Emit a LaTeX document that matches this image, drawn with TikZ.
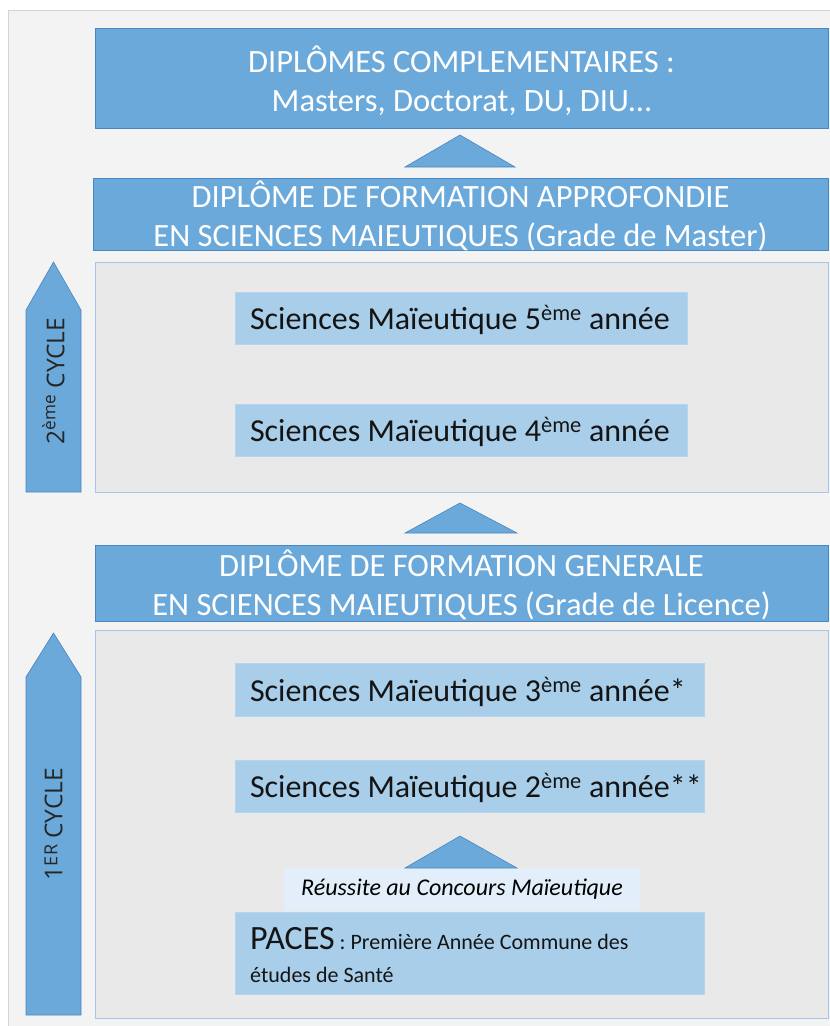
\documentclass[tikz,border=0pt]{standalone}
\usepackage{fontspec}
\setmainfont{Carlito}
\newfontfamily\cyclefont{Open Sans}
\definecolor{darkblue}{RGB}{106,169,218}
\definecolor{darkedge}{RGB}{74,134,192}
\definecolor{lightblue}{RGB}{168,206,234}
\definecolor{panelgray}{RGB}{233,233,233}
\definecolor{paneledge}{RGB}{168,196,232}
\definecolor{bggray}{RGB}{243,243,243}
\definecolor{bgedge}{RGB}{212,212,212}
\definecolor{paleblue}{RGB}{226,238,249}
\tikzset{
  headbox/.style={draw=darkedge, line width=0.8pt, fill=darkblue, inner sep=0pt},
  headtext/.style={text=white, align=center, inner sep=0pt, font=\fontsize{32.5}{38.5}\selectfont},
  yearbox/.style={fill=lightblue, draw=lightblue!85!white, inner sep=0pt},
  yeartext/.style={anchor=west, inner sep=0pt, text=black!92, font=\fontsize{32}{36}\selectfont},
  panelbox/.style={fill=panelgray, draw=paneledge, line width=0.8pt},
  uptri/.style={fill=darkblue, draw=darkedge, line width=0.6pt},
  cyclearrow/.style={fill=darkblue, draw=darkedge, line width=0.6pt},
  cycletext/.style={rotate=90, font=\cyclefont\fontsize{24.5}{26}\selectfont, text=black!85}
}
\begin{document}
\begin{tikzpicture}[x=1pt,y=-1pt]
\useasboundingbox (0,0) rectangle (830,1026);
% background
\fill[bggray] (8,10) rectangle (830,1026);
\draw[bgedge, line width=1pt] (8,1026) -- (8,10) -- (830,10);

% top header
\node[headbox, minimum width=733pt, minimum height=100pt] (dc) at (461.5,78) {};
\node[headtext] (dct) at ([yshift=-3pt]dc.center) {DIPLÔMES COMPLEMENTAIRES :\\Masters, Doctorat, DU, DIU…};
\filldraw[uptri] (405,167) -- (460,135) -- (515,167) -- cycle;

\node[headbox, minimum width=735pt, minimum height=72pt] (dfa) at (460.5,214) {};
\node[headtext] (dfat) at ([yshift=-2pt]dfa.center) {DIPLÔME DE FORMATION APPROFONDIE\\EN SCIENCES MAIEUTIQUES (Grade de Master)};

% panel 2nd cycle
\node[panelbox, minimum width=733pt, minimum height=230pt, inner sep=0pt] (p2) at (461.5,377) {};
\node[yearbox, minimum width=452pt, minimum height=52pt] (y5) at (461,318) {};
\node[yeartext] (y5t) at ([xshift=15pt,yshift=-2pt]y5.west) {Sciences Maïeutique 5\textsuperscript{ème} année};
\node[yearbox, minimum width=452pt, minimum height=52pt] (y4) at (461,430) {};
\node[yeartext] (y4t) at ([xshift=15pt,yshift=-2pt]y4.west) {Sciences Maïeutique 4\textsuperscript{ème} année};

\filldraw[cyclearrow] (26,492) -- (26,310) -- (53.5,262) -- (81,310) -- (81,492) -- cycle;
\node[cycletext] (c2) at (53.5,381) {2\textsuperscript{ème} CYCLE};

\filldraw[uptri] (405,533) -- (460,503) -- (517,533) -- cycle;

\node[headbox, minimum width=733pt, minimum height=76pt] (dfg) at (461.5,583) {};
\node[headtext] (dfgt) at ([yshift=-2pt]dfg.center) {DIPLÔME DE FORMATION GENERALE\\EN SCIENCES MAIEUTIQUES (Grade de Licence)};

% panel 1st cycle
\node[panelbox, minimum width=733pt, minimum height=388pt, inner sep=0pt] (p1) at (461.5,824) {};
\node[yearbox, minimum width=469pt, minimum height=53pt] (y3) at (469.5,689.5) {};
\node[yeartext] (y3t) at ([xshift=15pt,yshift=-2pt]y3.west) {Sciences Maïeutique 3\textsuperscript{ème} année*};
\node[yearbox, minimum width=469pt, minimum height=52pt] (y2) at (469.5,786) {};
\node[yeartext] (y2t) at ([xshift=15pt,yshift=-2pt]y2.west) {Sciences Maïeutique 2\textsuperscript{ème} année**};

\filldraw[cyclearrow] (26,1015) -- (26,677) -- (53.5,633) -- (81,677) -- (81,1015) -- cycle;
\node[cycletext] (c1) at (53.5,824) {1{\fontsize{18}{20}\selectfont\raisebox{5pt}{ER}} CYCLE};

\node[fill=paleblue, minimum width=356pt, minimum height=43pt, inner sep=0pt,
  font=\itshape\fontsize{24}{28}\selectfont] (reu) at (462,889.5) {\raisebox{-2pt}{Réussite au Concours Maïeutique}};
\filldraw[uptri] (405,868) -- (460,836) -- (517,868) -- cycle;

\node[yearbox, minimum width=469pt, minimum height=82pt] (pac) at (469.5,953) {};
\node[anchor=north west, align=left, inner sep=0pt, text=black!92, font=\fontsize{22}{33}\selectfont] (pact) at (250,927)
  {{\fontsize{34}{33}\selectfont PACES} : Première Année Commune des\\études de Santé};
\end{tikzpicture}
\end{document}
